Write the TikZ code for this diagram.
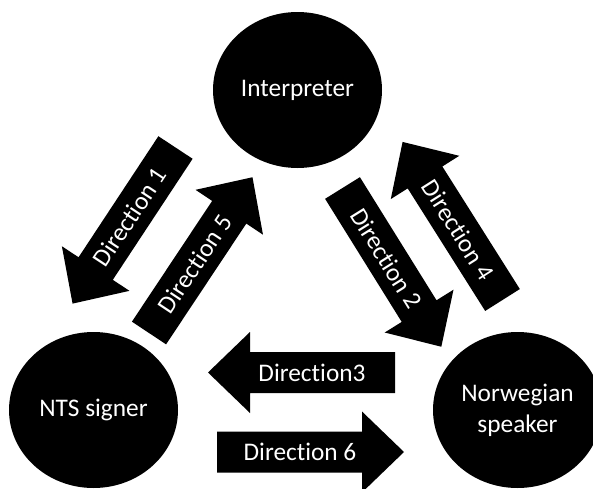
\documentclass[tikz,border=0pt]{standalone}
\usepackage{fontspec}
\setmainfont{Carlito}[Ligatures=NoCommon]
\usetikzlibrary{shapes.geometric}
\tikzset{
  x=0.75pt, y=-0.75pt,
  party/.style={ellipse, fill=black, text=white, inner sep=0pt,
    minimum width=126.75pt, minimum height=117pt, align=center,
    font=\fontsize{19}{23.5}\selectfont},
  lbl/.style={text=white, inner sep=0pt, transform shape,
    font=\fontsize{19}{22}\selectfont},
  blockfill/.style={fill=black}
}
\newcommand{\blockarrow}[5]{%
  \begin{scope}[shift={#2}, rotate=#3]
    \fill[blockfill] (0,20.5) -- (145,20.5) -- (145,40.5) -- (187,0)
      -- (145,-40.5) -- (145,-20.5) -- (0,-20.5) -- cycle;
    \node[lbl, rotate=#4] (#1) at (83,0) {#5};
  \end{scope}}
\begin{document}
\begin{tikzpicture}
\useasboundingbox (0,0) rectangle (593,489);
\clip (0,0) rectangle (593,489);
\node[party] (interp) at (297.5,90) {Interpreter};
\node[party] (nts) at (93.5,410) {NTS signer};
\node[party] (nor) at (517.5,410) {Norwegian\\speaker};
\blockarrow{d1}{(175.5,147.5)}{236.6}{180}{Direction 1}
\blockarrow{d5}{(149,333)}{56.4}{0}{Direction 5}
\blockarrow{d2}{(342.5,188)}{-58.1}{0}{Direction 2}
\blockarrow{d4}{(502.5,300)}{122.3}{180}{Direction 4}
\blockarrow{d3}{(395,372.5)}{180}{180}{Direction3}
\blockarrow{d6}{(217,452)}{0}{0}{Direction 6}
\end{tikzpicture}
\end{document}
